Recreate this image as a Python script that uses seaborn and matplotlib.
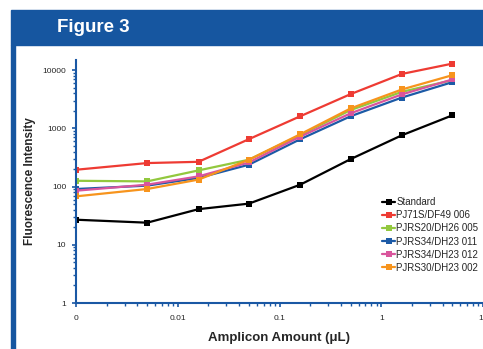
import numpy as np
import pandas as pd
import seaborn as sns
import matplotlib.pyplot as plt
from matplotlib.patches import Rectangle
from matplotlib.ticker import LogLocator, FixedLocator, FixedFormatter, NullFormatter

sns.set_theme(style="ticks")
plt.rcParams['font.family'] = ['Liberation Sans', 'DejaVu Sans']

# amplicon amount (uL); 0 is drawn at 0.001 on the log axis
amount = [0.001, 0.005, 0.016, 0.05, 0.16, 0.5, 1.6, 5.0]
samples = ["Standard", "PJ71S/DF49 006", "PJRS20/DH26 005",
           "PJRS34/DH23 011", "PJRS34/DH23 012", "PJRS30/DH23 002"]
standard = [27, 24, 41, 51, 108, 297, 765, 1680]
pj71s_006 = [195, 254, 267, 654, 1620, 3890, 8650, 13000]
pjrs20_005 = [126, 123, 190, 290, 770, 2070, 4260, 6760]
pjrs34_011 = [91, 104, 141, 238, 653, 1620, 3400, 6240]
pjrs34_012 = [85, 108, 150, 260, 724, 1820, 3850, 6940]
pjrs30_002 = [68, 91, 132, 290, 795, 2210, 4680, 8220]
colors = ["#000000", "#ee3b33", "#92c83e", "#1c5aa6", "#d9559c", "#f7941d"]

series = [standard, pj71s_006, pjrs20_005, pjrs34_011, pjrs34_012, pjrs30_002]
df = pd.DataFrame({
    "amount": amount * len(samples),
    "value": [v for s in series for v in s],
    "sample": [n for n in samples for _ in amount],
})

blue = "#1a58a4"
fig = plt.figure(figsize=(4.83, 3.49), dpi=100)
fig.patch.set_facecolor("white")
# header bar and left rule
fig.patches.append(Rectangle((11/483, 1-45/349), 1, 35/349, transform=fig.transFigure,
                             color="#1656a0", zorder=0))
fig.patches.append(Rectangle((11/483, 0), 4/483, 1-45/349, transform=fig.transFigure,
                             color="#1656a0", zorder=0))
fig.text(57/483, 1-27/349, "Figure 3", color="white", fontsize=13.5,
         fontweight="bold", va="center", ha="left")

ax = fig.add_axes([76/483, 46/349, 1-76/483, 243/349])
sns.lineplot(data=df, x="amount", y="value", hue="sample", palette=colors,
             hue_order=samples, marker="s", markersize=4.8, markeredgewidth=0,
             linewidth=1.6, ax=ax)
ax.set_xscale("log")
ax.set_yscale("log")
ax.set_xlim(0.001, 10)
ax.set_ylim(1, 15000)

ax.xaxis.set_major_locator(FixedLocator([0.001, 0.01, 0.1, 1, 10]))
ax.xaxis.set_major_formatter(FixedFormatter(["0", "0.01", "0.1", "1", "10"]))
ax.xaxis.set_minor_locator(LogLocator(base=10, subs=np.arange(2, 10)))
ax.xaxis.set_minor_formatter(NullFormatter())
ax.yaxis.set_major_locator(FixedLocator([1, 10, 100, 1000, 10000]))
ax.yaxis.set_major_formatter(FixedFormatter(["1", "10", "100", "1000", "10000"]))
ax.yaxis.set_minor_locator(LogLocator(base=10, subs=np.arange(2, 10)))
ax.yaxis.set_minor_formatter(NullFormatter())

for side in ["top", "right"]:
    ax.spines[side].set_visible(False)
for side in ["left", "bottom"]:
    ax.spines[side].set_color(blue)
    ax.spines[side].set_linewidth(1.5)
ax.tick_params(which="major", length=3, width=1.2, color=blue, labelsize=6, pad=4)
ax.tick_params(axis="x", which="major", pad=6)
ax.tick_params(which="minor", length=2, width=1, color=blue)

ax.set_xlabel("Amplicon Amount (\u03bcL)", fontsize=9.5, fontweight="bold", labelpad=7)
ax.set_ylabel("Fluorescence Intensity", fontsize=8.5, fontweight="bold", labelpad=5)

ax.legend(loc="center left", bbox_to_anchor=(377/483, 1-235/349),
          bbox_transform=fig.transFigure, frameon=False, fontsize=7,
          handlelength=1.4, handletextpad=0.1, labelspacing=0.32,
          borderpad=0, title=None)

fig.savefig("out.png", dpi=100)
